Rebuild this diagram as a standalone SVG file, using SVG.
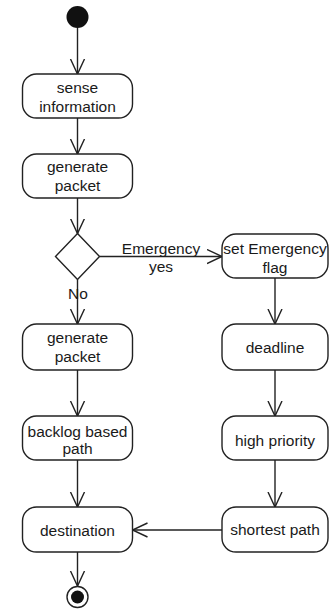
<svg xmlns="http://www.w3.org/2000/svg" width="331" height="609" viewBox="0 0 331 609">
<style>
.box{fill:#fff;stroke:#222;stroke-width:1.4}
.t{font-family:"Liberation Sans",Arial,sans-serif;font-size:15.5px;fill:#1a1a1a;text-anchor:middle}
.c{stroke:#222;stroke-width:1.4;fill:none;marker-end:url(#arr)}
</style>
<defs>
<marker id="arr" markerUnits="userSpaceOnUse" markerWidth="18" markerHeight="18" refX="15" refY="8" orient="auto">
<path d="M0,1 L15,8 L0,15" fill="none" stroke="#222" stroke-width="1.4"/>
</marker>
</defs>
<rect width="331" height="609" fill="#fff"/>
<g id="connectors">
<line class="c" x1="77.5" y1="28" x2="77.5" y2="74"/>
<line class="c" x1="77.5" y1="118" x2="77.5" y2="154"/>
<line class="c" x1="77.5" y1="198" x2="77.5" y2="233.5"/>
<line class="c" x1="99.5" y1="256.5" x2="222" y2="256.5"/>
<line class="c" x1="77.5" y1="279.5" x2="77.5" y2="324"/>
<line class="c" x1="77.5" y1="370" x2="77.5" y2="416"/>
<line class="c" x1="77.5" y1="460" x2="77.5" y2="507"/>
<line class="c" x1="77.5" y1="552" x2="77.5" y2="586"/>
<line class="c" x1="275" y1="278" x2="275" y2="324"/>
<line class="c" x1="275" y1="370" x2="275" y2="416"/>
<line class="c" x1="275" y1="460" x2="275" y2="507"/>
<line class="c" x1="222" y1="530" x2="132.5" y2="530"/>
<text class="t" x="161" y="254">Emergency</text>
<text class="t" x="161" y="272">yes</text>
<text class="t" x="68" y="299" style="text-anchor:start">No</text>
</g>
<g id="start"><circle cx="77.5" cy="17" r="11" fill="#111"/></g>
<g id="sense"><rect class="box" x="22.5" y="74" width="110" height="44" rx="14"/><text class="t" x="77.5" y="93">sense</text><text class="t" x="77.5" y="112">information</text></g>
<g id="gen1"><rect class="box" x="22.5" y="154" width="110" height="44" rx="14"/><text class="t" x="77.5" y="172">generate</text><text class="t" x="77.5" y="191">packet</text></g>
<g id="decision"><polygon class="box" points="77.5,233.5 99.5,256.5 77.5,279.5 55.5,256.5"/></g>
<g id="gen2"><rect class="box" x="22.5" y="324" width="110" height="46" rx="14"/><text class="t" x="77.5" y="343">generate</text><text class="t" x="77.5" y="362">packet</text></g>
<g id="backlog"><rect class="box" x="22.5" y="416" width="110" height="44" rx="14"/><text class="t" x="77.5" y="437">backlog based</text><text class="t" x="77.5" y="454">path</text></g>
<g id="destination"><rect class="box" x="22.5" y="507" width="110" height="45" rx="14"/><text class="t" x="77.5" y="536">destination</text></g>
<g id="end"><circle cx="77.5" cy="597" r="10.5" fill="#fff" stroke="#222" stroke-width="1.4"/><circle cx="77.5" cy="597" r="6.5" fill="#111"/></g>
<g id="setflag"><rect class="box" x="222" y="234" width="106" height="44" rx="14"/><text class="t" x="275" y="254">set Emergency</text><text class="t" x="275" y="273">flag</text></g>
<g id="deadline"><rect class="box" x="222" y="324" width="106" height="46" rx="14"/><text class="t" x="275" y="353">deadline</text></g>
<g id="highpriority"><rect class="box" x="222" y="416" width="106" height="44" rx="14"/><text class="t" x="275" y="446">high priority</text></g>
<g id="shortest"><rect class="box" x="222" y="507" width="106" height="45" rx="14"/><text class="t" x="275" y="535">shortest path</text></g>
</svg>
